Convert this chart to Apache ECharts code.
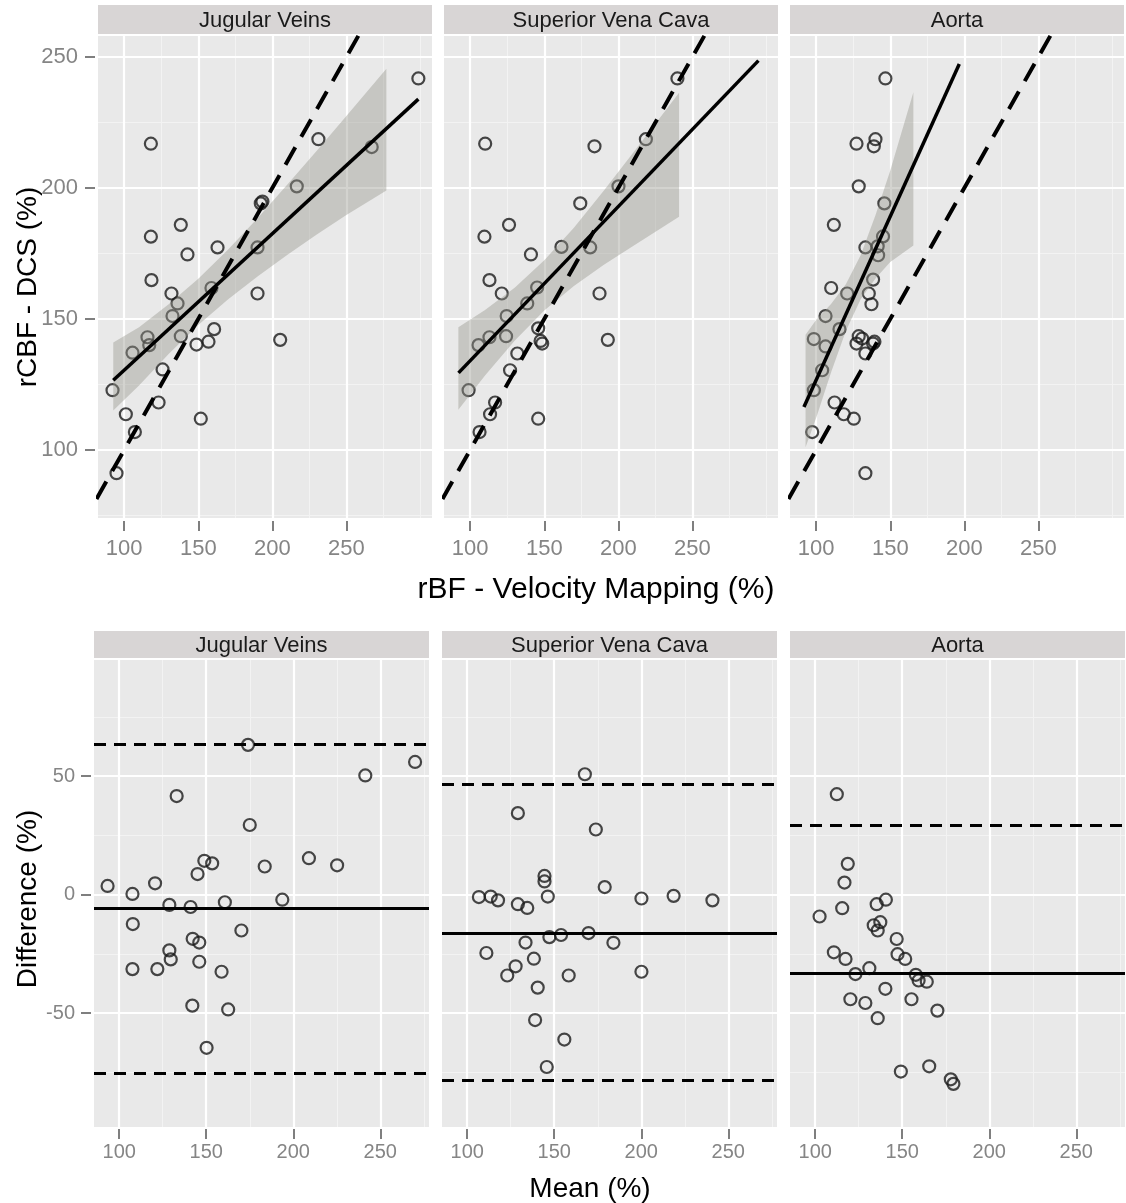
<!DOCTYPE html>
<html><head><meta charset="utf-8">
<script src="https://cdn.jsdelivr.net/npm/echarts@6/dist/echarts.min.js"></script>
<style>html,body{margin:0;padding:0;background:#fff}#c{width:1126px;height:1203px}</style>
</head><body><div id="c"></div>
<script>
// ---------- categories / ticks ----------
const panelNames = ['Jugular Veins', 'Superior Vena Cava', 'Aorta'];
const xTicks = [100, 150, 200, 250];
const xMinorTop = [125, 175, 225, 275, 300];
const xMinorBottom = [125, 175, 225, 275];
const yTicksTop = [100, 150, 200, 250];
const yMinorTop = [75, 125, 175, 225];
const yTicksBottom = [-50, 0, 50];
const yMinorBottom = [-75, -25, 25, 75];

// ---------- top row: rBF (velocity mapping) vs rCBF (DCS) ----------
const jvTop = [[298.6,241.8],[118,216.9],[231.1,218.6],[267.1,215.6],[216.5,200.6],[192.2,194.1],[193.3,194.8],[138.2,185.9],[118,181.4],[142.7,174.6],[163,177.3],[190,177.3],[118.4,164.8],[131.9,159.7],[136,155.9],[132.6,151.1],[158.9,161.8],[190,159.7],[115.7,143],[116.9,140],[105.6,137.1],[138.2,143.4],[160.7,146.1],[148.8,140.2],[156.9,141.3],[205.3,142],[125.9,130.7],[92.1,122.8],[123.2,118.1],[101.1,113.6],[151.7,111.9],[107.2,106.8],[94.8,91.1]];
const svcTop = [[239.9,241.8],[110.1,216.9],[183.9,215.9],[218.6,218.6],[200.1,200.6],[174.3,194.1],[126.2,185.9],[109.6,181.4],[141,174.6],[161.6,177.5],[181,177.3],[113,164.8],[121.3,159.7],[145.2,162],[138.5,155.9],[124.6,151.1],[187.3,159.7],[113,143],[105.6,140],[124.2,143.4],[145.9,146.4],[148.6,140.6],[147.5,141.6],[192.9,142],[131.8,136.8],[126.9,130.4],[98.9,122.8],[116.8,118.1],[113.4,113.6],[145.9,111.9],[106.3,106.8]];
const aoTop = [[146.7,241.8],[127.2,216.9],[140,218.6],[138.9,215.9],[128.7,200.6],[146,194.1],[111.9,185.9],[145.1,181.5],[133.2,177.3],[141.5,177.7],[141.8,174.3],[138.4,165],[110.1,161.8],[120.9,159.7],[135.5,159.7],[137.3,155.6],[106.3,151.1],[115.7,146.1],[98.4,142.3],[106.3,139.5],[128.7,143.4],[131,142.5],[127.2,140.6],[139.3,141.3],[138.4,140.6],[133.2,136.8],[104,130.4],[98.4,122.8],[112.4,118.1],[118.6,113.6],[125.4,111.9],[97.3,106.8],[133.2,91.1]];

// fitted lines (end points)
const jvFit = [[92.6,126.6],[298.6,233.9]];
const svcFit = [[92.1,129.4],[294.6,248.6]];
const aoFit = [[91.7,116.4],[196.6,247.3]];
// identity line y = x
const identity = [[60,60],[320,320]];

// confidence bands [x, lower, upper]
const jvBand = [[92.6,115,141],[110,124.6,146.8],[130,136.6,155.6],[150,147.7,165.3],[170,157.4,176.4],[190,166.2,188.4],[210,174.4,201.2],[230,182.2,214.2],[250,189.7,227.5],[277,199,245.5]];
const svcBand = [[92,115.3,146.8],[110,128.4,153.4],[130,141.7,161.9],[150,153.2,172.4],[170,162.6,184.8],[190,170.6,198.8],[210,177.8,213.4],[241,189,236.3]];
const aoBand = [[92.8,101,144],[100,112.3,149.7],[110,129.5,155.7],[120,145.4,163.2],[130,157.5,174.3],[140,165.4,189.6],[150,171.7,206.7],[165.6,178,236.5]];

// ---------- bottom row: Bland-Altman (mean, difference) ----------
const jvBA = [[174,63.2],[270,56],[241.4,50.3],[133,41.6],[175,29.4],[148.9,14.3],[153.4,13.2],[145,8.7],[183.6,11.9],[209,15.4],[225.2,12.4],[93.3,3.7],[120.6,4.8],[107.6,0.3],[128.8,-4.3],[141,-5.2],[160.7,-3.2],[193.7,-2.1],[107.8,-12.4],[170.2,-15.1],[142.2,-18.6],[146,-20.2],[128.8,-23.5],[129.6,-27.3],[146,-28.3],[107.6,-31.4],[121.9,-31.4],[158.8,-32.5],[142,-46.8],[162.6,-48.4],[150.2,-64.6]];
const svcBA = [[167.6,50.8],[129.1,34.4],[173.9,27.5],[144.4,7.9],[144.4,5.6],[179,3.2],[106.7,-1],[113.5,-0.8],[117.7,-2.4],[129.1,-4],[134.5,-5.6],[146.3,-0.8],[200.1,-1.6],[218.6,-0.5],[240.9,-2.4],[147.2,-17.9],[153.9,-17],[169.7,-16.2],[133.5,-20.2],[184,-20.3],[111,-24.6],[138.3,-27],[127.8,-30.2],[123,-34.1],[158.3,-34.1],[200.1,-32.5],[140.5,-39.2],[139,-52.9],[155.8,-61.1],[145.7,-72.7]];
const aoBA = [[112.4,42.4],[118.7,13],[116.8,5.1],[115.5,-5.7],[102.5,-9.2],[135.3,-4],[140.6,-2.1],[133.6,-12.9],[137.4,-11.6],[135.9,-15.1],[146.8,-18.7],[110.7,-24.3],[117.4,-27.1],[147.3,-25.1],[151.7,-27.1],[131.1,-31],[123.1,-33.5],[157.8,-33.8],[159.4,-36.2],[164.1,-36.7],[140.3,-39.7],[120.2,-44.1],[128.8,-45.7],[155.3,-44.1],[170.2,-48.9],[135.9,-52.1],[165.5,-72.4],[149.2,-74.6],[177.9,-77.9],[179.4,-79.8]];

// mean difference and limits of agreement (null = not shown)
const meanDiff = [-5.9, -16.3, -33.0];
const loaUpper = [63.5, 46.5, 29.2];
const loaLower = [-75.4, -78.3, null];

// ---------- layout ----------
const FONT = "'Liberation Sans', Arial, Helvetica, sans-serif";
const TOP = {lefts:[98,444,790], width:334, top:36, height:482, stripTop:5, stripH:29, xr:[82.3,307.8], yr:[74,258]};
const BOT = {lefts:[94,442,790], width:335, top:660, height:467, stripTop:631, stripH:27, xr:[85.5,278], yr:[-98,99]};
const PANEL_BG = '#E9E9E9', STRIP_BG = '#D8D5D5', TICK_C = '#7f7f7f', LABEL_C = '#858585';

const grids = [], xAxes = [], yAxes = [], series = [], graphics = [];

function addPanel(row, col, cfg) {
  const gi = grids.length;
  const isTop = row === 0;
  grids.push({show:true, backgroundColor:PANEL_BG, borderWidth:0, left:cfg.lefts[col], top:cfg.top, width:cfg.width, height:cfg.height});
  const xMinor = isTop ? xMinorTop : xMinorBottom;
  const yMajor = isTop ? yTicksTop : yTicksBottom;
  const yMinor = isTop ? yMinorTop : yMinorBottom;
  const tickFont = isTop ? 22 : 20;
  // major x
  xAxes.push({type:'value', gridIndex:gi, min:cfg.xr[0], max:cfg.xr[1], position:'bottom', offset:isTop?3:2,
    axisLine:{show:false, onZero:false},
    axisTick:{show:true, length:10, customValues:xTicks, lineStyle:{color:TICK_C, width:2}},
    axisLabel:{show:true, customValues:xTicks, color:LABEL_C, fontSize:tickFont, fontFamily:FONT, margin:isTop?17:13},
    splitLine:{show:true, lineStyle:{color:'#ffffff', width:2.2}}, z:1});
  // minor x
  xAxes.push({type:'value', gridIndex:gi, min:cfg.xr[0], max:cfg.xr[1], position:'top',
    axisLine:{show:false, onZero:false}, axisTick:{show:false, customValues:xMinor}, axisLabel:{show:false, customValues:xMinor},
    splitLine:{show:true, lineStyle:{color:'#F3F3F3', width:1}}, z:0});
  // major y
  yAxes.push({type:'value', gridIndex:gi, min:cfg.yr[0], max:cfg.yr[1], position:'left', offset:3,
    axisLine:{show:false, onZero:false},
    axisTick:{show:col===0, length:10, customValues:yMajor, lineStyle:{color:TICK_C, width:2}},
    axisLabel:{show:col===0, customValues:yMajor, color:LABEL_C, fontSize:tickFont, fontFamily:FONT, margin:isTop?17:16},
    splitLine:{show:true, lineStyle:{color:'#ffffff', width:2.2}}, z:1});
  // minor y
  yAxes.push({type:'value', gridIndex:gi, min:cfg.yr[0], max:cfg.yr[1], position:'right',
    axisLine:{show:false, onZero:false}, axisTick:{show:false, customValues:yMinor}, axisLabel:{show:false, customValues:yMinor},
    splitLine:{show:true, lineStyle:{color:'#F3F3F3', width:1}}, z:0});
  // strip
  graphics.push({type:'rect', shape:{x:cfg.lefts[col], y:cfg.stripTop, width:cfg.width, height:cfg.stripH}, style:{fill:STRIP_BG}, silent:true});
  graphics.push({type:'text', x:cfg.lefts[col] + cfg.width/2, y:cfg.stripTop + cfg.stripH/2 + 1,
    style:{text:panelNames[col], fontSize:22, fontFamily:FONT, fill:'#1a1a1a', align:'center', verticalAlign:'middle'}, silent:true});
  return gi;
}

function scatter(gi, data, extra) {
  return Object.assign({type:'scatter', xAxisIndex:gi*2, yAxisIndex:gi*2, data:data, symbol:'circle', symbolSize:12,
    itemStyle:{color:'rgba(0,0,0,0)', borderColor:'#1a1a1a', borderWidth:2.2}, z:2, silent:true, clip:true}, extra || {});
}
function bandSeries(gi, band) {
  return {type:'custom', xAxisIndex:gi*2, yAxisIndex:gi*2, z:3, silent:true, clip:true,
    data:band, encode:{x:0, y:[1,2]},
    renderItem:function(params, api){
      if (params.dataIndex !== 0) return null;
      const up = band.map(d => api.coord([d[0], d[2]]));
      const lo = band.slice().reverse().map(d => api.coord([d[0], d[1]]));
      return {type:'polygon', shape:{points:up.concat(lo)}, style:{fill:'rgba(150,150,140,0.42)'}};
    }};
}
function lineSeries(gi, data, dashed) {
  return {type:'line', xAxisIndex:gi*2, yAxisIndex:gi*2, data:data, showSymbol:false, symbol:'none', clip:true, silent:true, z:4,
    lineStyle:{color:'#000', width:dashed?4:3.5, type:dashed?[20,12]:'solid', cap:'butt'}};
}

const topData = [jvTop, svcTop, aoTop];
const topFit = [jvFit, svcFit, aoFit];
const topBand = [jvBand, svcBand, aoBand];
const baData = [jvBA, svcBA, aoBA];

for (let c = 0; c < 3; c++) {
  const gi = addPanel(0, c, TOP);
  series.push(scatter(gi, topData[c]));
  series.push(bandSeries(gi, topBand[c]));
  series.push(lineSeries(gi, topFit[c], false));
  series.push(lineSeries(gi, identity, true));
}
for (let c = 0; c < 3; c++) {
  const gi = addPanel(1, c, BOT);
  const ml = [{yAxis:meanDiff[c], lineStyle:{type:'solid', width:2.8, color:'#000'}}];
  if (loaUpper[c] !== null) ml.push({yAxis:loaUpper[c], lineStyle:{type:[12,8], width:3, color:'#000'}});
  if (loaLower[c] !== null) ml.push({yAxis:loaLower[c], lineStyle:{type:[12,8], width:3, color:'#000'}});
  series.push(scatter(gi, baData[c], {markLine:{silent:true, symbol:['none','none'], label:{show:false}, animation:false, data:ml}}));
}

// axis titles
graphics.push({type:'text', x:596, y:590, style:{text:'rBF - Velocity Mapping (%)', fontSize:30, fontFamily:FONT, fill:'#000', align:'center', verticalAlign:'middle'}, silent:true});
graphics.push({type:'text', x:28, y:287, rotation:Math.PI/2, style:{text:'rCBF - DCS (%)', fontSize:28, fontFamily:FONT, fill:'#000', align:'center', verticalAlign:'middle'}, silent:true});
graphics.push({type:'text', x:590, y:1189, style:{text:'Mean (%)', fontSize:28, fontFamily:FONT, fill:'#000', align:'center', verticalAlign:'middle'}, silent:true});
graphics.push({type:'text', x:28, y:899, rotation:Math.PI/2, style:{text:'Difference (%)', fontSize:28, fontFamily:FONT, fill:'#000', align:'center', verticalAlign:'middle'}, silent:true});

const chart = echarts.init(document.getElementById('c'), null, {renderer:'canvas'});
chart.setOption({animation:false, backgroundColor:'#fff', grid:grids, xAxis:xAxes, yAxis:yAxes, series:series, graphic:graphics});
</script></body></html>
